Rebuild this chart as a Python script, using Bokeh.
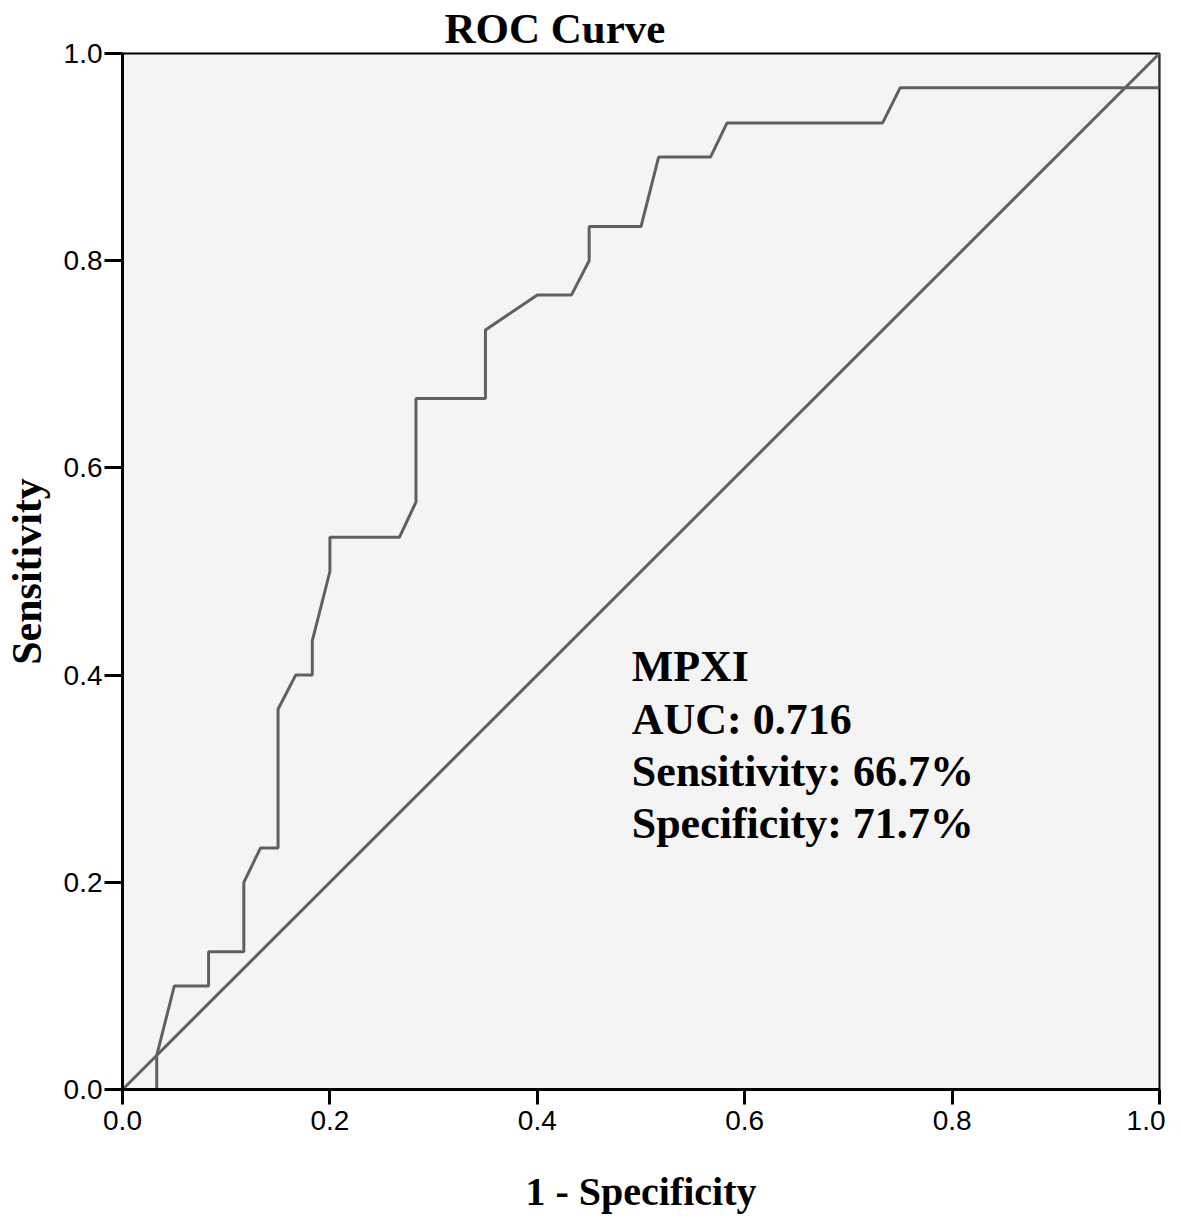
from bokeh.plotting import figure
from bokeh.models import Range1d, FixedTicker, NumeralTickFormatter, ColumnDataSource
from bokeh.core.properties import value
from bokeh.embed import file_html
from bokeh.resources import INLINE

# ROC curve data (1 - specificity, sensitivity)
fpr = [0.0, 0.033, 0.033, 0.05, 0.083, 0.083, 0.117, 0.117, 0.133, 0.15, 0.15,
       0.167, 0.183, 0.183, 0.2, 0.2, 0.267, 0.283, 0.283, 0.35, 0.35, 0.4,
       0.433, 0.45, 0.45, 0.5, 0.517, 0.567, 0.583, 0.733, 0.75, 1.0, 1.0]
tpr = [0.0, 0.0, 0.033, 0.1, 0.1, 0.133, 0.133, 0.2, 0.233, 0.233, 0.367,
       0.4, 0.4, 0.433, 0.5, 0.533, 0.533, 0.567, 0.667, 0.667, 0.733, 0.767,
       0.767, 0.8, 0.833, 0.833, 0.9, 0.9, 0.933, 0.933, 0.967, 0.967, 1.0]

# reference line
diag_x = [0.0, 1.0]
diag_y = [0.0, 1.0]

ticks = [0.0, 0.2, 0.4, 0.6, 0.8, 1.0]

title_text = "ROC Curve"
annotation_lines = ["MPXI", "AUC: 0.716", "Sensitivity: 66.7%", "Specificity: 71.7%"]

SERIF = "Liberation Serif"
SANS = "Liberation Sans"
CURVE = "#606060"

p = figure(width=1165, height=1216,
           x_range=Range1d(0, 1), y_range=Range1d(0, 1),
           output_backend="svg", toolbar_location=None,
           min_border_left=122, min_border_right=6,
           min_border_top=53, min_border_bottom=126)

p.title.text = title_text
p.title.text_font = SERIF
p.title.text_font_style = "bold"
p.title.text_font_size = "43px"
p.title.text_color = "black"
p.title.align = "left"
p.title.vertical_align = "top"
p.title.offset = 322
p.title.standoff = 0

p.background_fill_color = "#f4f4f4"
p.border_fill_color = "white"
p.outline_line_color = "black"
p.outline_line_width = 2
p.xgrid.grid_line_color = None
p.ygrid.grid_line_color = None

for ax in (p.xaxis[0], p.yaxis[0]):
    ax.ticker = FixedTicker(ticks=ticks)
    ax.formatter = NumeralTickFormatter(format="0.0")
    ax.axis_line_width = 3
    ax.axis_line_color = "black"
    ax.major_tick_line_width = 3
    ax.major_tick_line_color = "black"
    ax.major_tick_in = 0
    ax.minor_tick_line_color = None
    ax.major_label_text_font = SANS
    ax.major_label_text_font_size = "28px"
    ax.major_label_text_color = "black"
    ax.axis_label_text_font = SERIF
    ax.axis_label_text_font_style = "bold"
    ax.axis_label_text_color = "black"

p.xaxis.axis_label = "1 - Specificity"
p.xaxis.axis_label_text_font_size = "40px"
p.xaxis.major_tick_out = 15
p.xaxis.major_label_standoff = 6
p.xaxis.axis_label_standoff = 36

p.yaxis.axis_label = "Sensitivity"
p.yaxis.axis_label_text_font_size = "42px"
p.yaxis.major_tick_out = 18
p.yaxis.major_label_standoff = 2
p.yaxis.axis_label_standoff = 11

p.line(diag_x, diag_y, line_color=CURVE, line_width=3)
p.line(fpr, tpr, line_color=CURVE, line_width=3)

text_x0 = 0.491
text_y0 = 0.408
text_step = 0.0505
src = ColumnDataSource(dict(
    x=[text_x0] * len(annotation_lines),
    y=[text_y0 - i * text_step for i in range(len(annotation_lines))],
    t=annotation_lines))
p.text(x="x", y="y", text="t", source=src,
       text_font=value(SERIF), text_font_style="bold",
       text_font_size="44px", text_color="black",
       text_baseline="alphabetic", text_align="left")

open("out.html", "w").write(file_html(p, INLINE))
